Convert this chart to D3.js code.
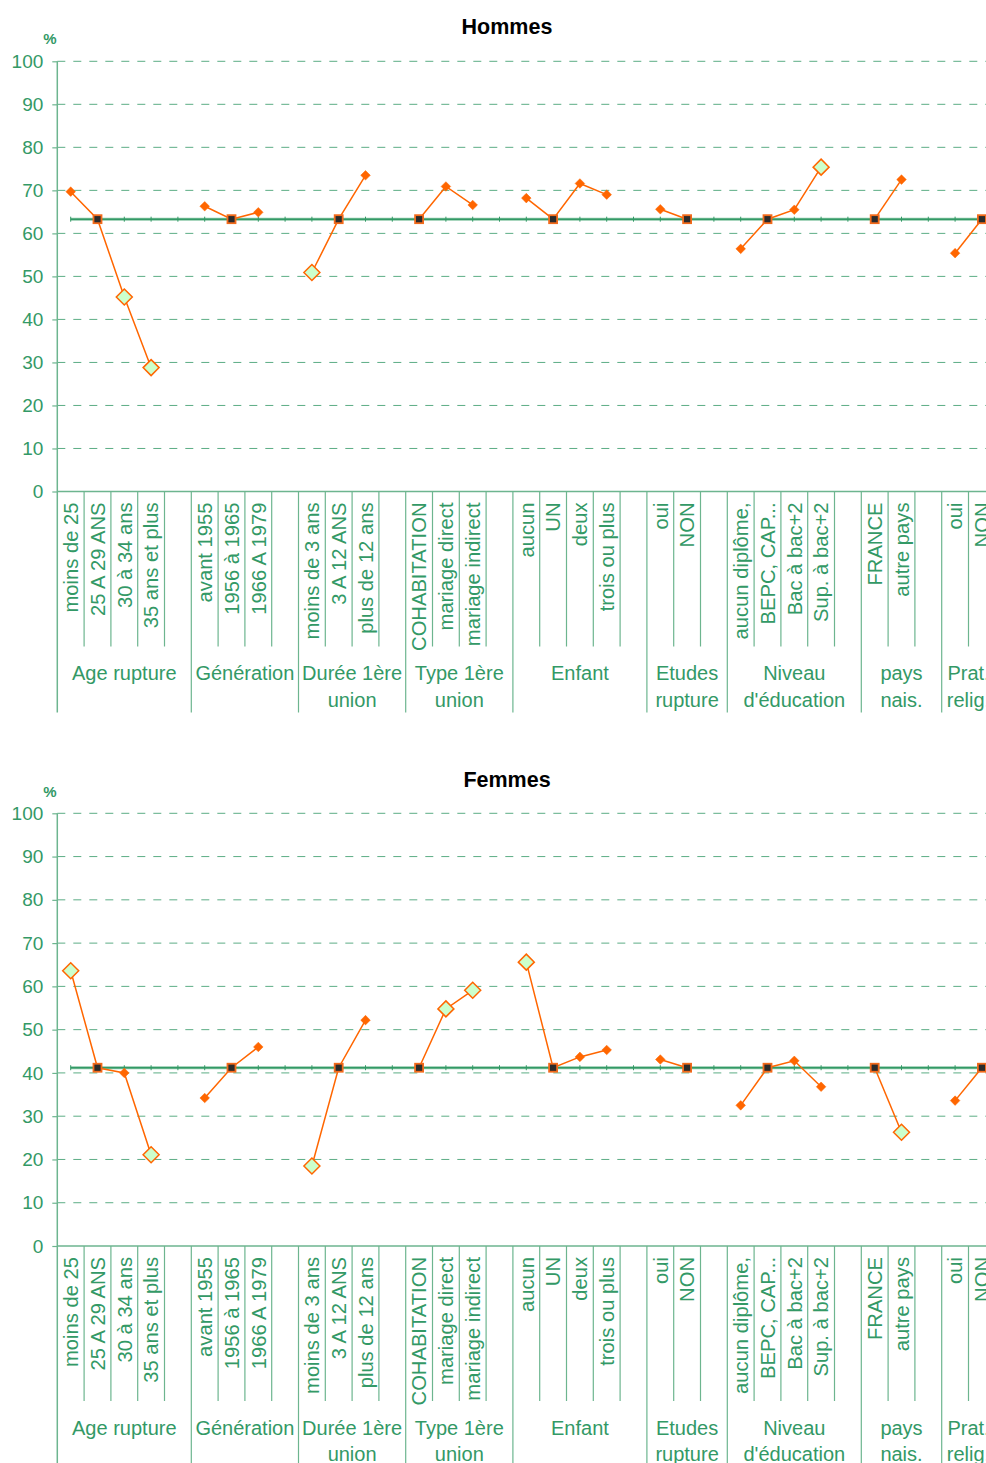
<!DOCTYPE html>
<html>
<head>
<meta charset="utf-8">
<script src="https://cdn.jsdelivr.net/npm/d3@7"></script>
<style>
  html, body { margin: 0; padding: 0; background: #fff; overflow: hidden; }
  svg { display: block; font-family: "Liberation Sans", Arial, sans-serif; }
</style>
</head>
<body>
<svg id="chart" width="986" height="1463"></svg>
<script>
// ---------------- DATA ----------------
const groupLabels = [
  ["Age rupture"], ["Génération"], ["Durée 1ère", "union"], ["Type 1ère", "union"],
  ["Enfant"], ["Etudes", "rupture"], ["Niveau", "d'éducation"], ["pays", "nais."], ["Prat.", "relig."]
];
const categories = [
  "moins de 25", "25 A 29 ANS", "30 à 34 ans", "35 ans et plus",
  "avant 1955", "1956 à 1965", "1966 A 1979",
  "moins de 3 ans", "3 A 12 ANS", "plus de 12 ans",
  "COHABITATION", "mariage direct", "mariage indirect",
  "aucun", "UN", "deux", "trois ou plus",
  "oui", "NON",
  "aucun diplôme,", "BEPC, CAP...", "Bac à bac+2", "Sup. à bac+2",
  "FRANCE", "autre pays",
  "oui", "NON"
];
const categoryGroup = [0,0,0,0, 1,1,1, 2,2,2, 3,3,3, 4,4,4,4, 5,5, 6,6,6,6, 7,7, 8,8];

const hommesRef = 63.3;
const hommes = [69.7, 63.3, 45.2, 28.8, 66.3, 63.3, 64.9, 50.9, 63.3, 73.5, 63.3, 70.9, 66.6,
                68.2, 63.3, 71.6, 69.0, 65.6, 63.3, 56.4, 63.3, 65.5, 75.4, 63.3, 72.5, 55.4, 63.3];
// ref = reference category, sig = significant, ns = not significant
const hommesType = ["ns","ref","sig","sig", "ns","ref","ns", "sig","ref","ns", "ref","ns","ns",
                    "ns","ref","ns","ns", "ns","ref", "ns","ref","ns","sig", "ref","ns", "ns","ref"];

const femmesRef = 41.2;
const femmes = [63.6, 41.2, 40.0, 21.1, 34.2, 41.2, 46.0, 18.5, 41.2, 52.2, 41.2, 54.8, 59.1,
                65.6, 41.2, 43.7, 45.3, 43.1, 41.2, 32.5, 41.2, 42.8, 36.8, 41.2, 26.3, 33.6, 41.2];
const femmesType = ["sig","ref","ns","sig", "ns","ref","ns", "sig","ref","ns", "ref","sig","sig",
                    "sig","ref","ns","ns", "ns","ref", "ns","ref","ns","ns", "ref","sig", "ns","ref"];

const yTicks = [0, 10, 20, 30, 40, 50, 60, 70, 80, 90, 100];

// ---------------- STYLE ----------------
const GREEN = "#339966";
const LIGHTGREEN = "#6db58f";
const ORANGE = "#FF6600";
const W = 986;

// slot domain: categories + an empty slot after every group but the last
const slots = [];
const catSlot = [];
groupLabels.forEach((gl, gi) => {
  categories.forEach((c, ci) => {
    if (categoryGroup[ci] === gi) { catSlot[ci] = "c" + ci; slots.push("c" + ci); }
  });
  if (gi < groupLabels.length - 1) slots.push("gap" + gi);
});

const slotW = 26.8;
const x0 = 57.3;
const x = d3.scaleBand().domain(slots).range([x0, x0 + slots.length * slotW]).padding(0);
const cx = i => x(catSlot[i]) + x.bandwidth() / 2;

const svg = d3.select("#chart");

function panel(title, values, types, refVal, y0px, y100px, top) {
  const g = svg.append("g");
  const y = d3.scaleLinear().domain([0, 100]).range([y0px, y100px]);

  // title
  g.append("text").attr("x", 507).attr("y", top + 34).attr("text-anchor", "middle")
    .attr("font-size", 21.5).attr("font-weight", "bold").attr("fill", "#000").text(title);
  g.append("text").attr("x", 50).attr("y", top + 44).attr("text-anchor", "middle")
    .attr("font-size", 15).attr("font-weight", "bold").attr("fill", GREEN).text("%");

  // dashed gridlines
  g.selectAll(".grid").data(yTicks.filter(d => d > 0)).join("line")
    .attr("x1", x0).attr("x2", W).attr("y1", d => y(d)).attr("y2", d => y(d))
    .attr("stroke", GREEN).attr("stroke-opacity", 0.8).attr("stroke-width", 1)
    .attr("stroke-dasharray", "8,8");

  // y axis
  const ax = g.append("g").attr("transform", `translate(${x0},0)`)
    .call(d3.axisLeft(y).tickValues(yTicks).tickSize(5).tickPadding(9).tickFormat(d3.format("d")));
  ax.select(".domain").remove();
  ax.selectAll(".tick line").attr("stroke", LIGHTGREEN).attr("stroke-width", 1.2);
  ax.selectAll(".tick text").attr("fill", GREEN).attr("font-size", 19)
    .attr("font-family", "'Liberation Sans', Arial, sans-serif");

  const catBottom = y0px + 155;
  const grpBottom = y0px + 221;
  // vertical axis line (continues as first group divider)
  g.append("line").attr("x1", x0).attr("x2", x0).attr("y1", y100px).attr("y2", grpBottom)
    .attr("stroke", LIGHTGREEN).attr("stroke-width", 1.5);
  // x axis baseline
  g.append("line").attr("x1", x0).attr("x2", W).attr("y1", y0px).attr("y2", y0px)
    .attr("stroke", LIGHTGREEN).attr("stroke-width", 1.5);

  // slot boundaries
  slots.forEach((s, i) => {
    if (i === 0) return;
    const xb = x(s);
    const isGroup = slots[i - 1].startsWith("gap");
    g.append("line").attr("x1", xb).attr("x2", xb).attr("y1", y0px)
      .attr("y2", isGroup ? grpBottom : catBottom)
      .attr("stroke", LIGHTGREEN).attr("stroke-width", 1.2);
  });

  // category labels (rotated)
  g.selectAll(".cat").data(categories).join("text")
    .attr("transform", (d, i) => `translate(${cx(i)},${y0px + 11}) rotate(-90)`)
    .attr("text-anchor", "end").attr("dy", "0.36em")
    .attr("font-size", 20.2).attr("fill", GREEN).text(d => d);

  // group labels
  groupLabels.forEach((gl, gi) => {
    const idx = categories.map((c, i) => i).filter(i => categoryGroup[i] === gi);
    const gx0 = x(catSlot[idx[0]]);
    const last = gi < groupLabels.length - 1 ? "gap" + gi : catSlot[idx[idx.length - 1]];
    const gx1 = x(last) + x.bandwidth();
    const t = g.append("text").attr("text-anchor", "middle").attr("font-size", 20).attr("fill", GREEN);
    gl.forEach((line, li) => {
      t.append("tspan").attr("x", (gx0 + gx1) / 2).attr("y", y0px + 188.5 + li * 26.5).text(line);
    });
  });

  // reference line
  g.append("line").attr("x1", cx(0)).attr("x2", W).attr("y1", y(refVal)).attr("y2", y(refVal))
    .attr("stroke", "#8cc9a8").attr("stroke-width", 3);
  g.append("line").attr("x1", cx(0)).attr("x2", W).attr("y1", y(refVal)).attr("y2", y(refVal))
    .attr("stroke", GREEN).attr("stroke-width", 1.6);
  g.selectAll(".reftick").data(slots).join("line")
    .attr("x1", s => x(s) + x.bandwidth() / 2).attr("x2", s => x(s) + x.bandwidth() / 2)
    .attr("y1", y(refVal) - 2.5).attr("y2", y(refVal) + 2.5)
    .attr("stroke", GREEN).attr("stroke-width", 1);

  // series lines per group
  const line = d3.line().x(i => cx(i)).y(i => y(values[i]));
  groupLabels.forEach((gl, gi) => {
    const idx = categories.map((c, i) => i).filter(i => categoryGroup[i] === gi);
    g.append("path").attr("d", line(idx)).attr("fill", "none")
      .attr("stroke", ORANGE).attr("stroke-width", 1.5);
  });

  // markers
  values.forEach((v, i) => {
    const px = cx(i), py = y(v), t = types[i];
    if (t === "ref") {
      g.append("rect").attr("x", px - 4).attr("y", py - 4).attr("width", 8).attr("height", 8)
        .attr("fill", "#2b2b2b").attr("stroke", "#f26a1b").attr("stroke-width", 1.8);
    } else if (t === "sig") {
      const r = 8;
      g.append("path").attr("d", `M${px},${py - r}L${px + r},${py}L${px},${py + r}L${px - r},${py}Z`)
        .attr("fill", "#CCFFCC").attr("stroke", ORANGE).attr("stroke-width", 1.5);
    } else {
      const r = 4.8;
      g.append("path").attr("d", `M${px},${py - r}L${px + r},${py}L${px},${py + r}L${px - r},${py}Z`)
        .attr("fill", ORANGE).attr("stroke", ORANGE).attr("stroke-width", 0.5);
    }
  });
}

panel("Hommes", hommes, hommesType, hommesRef, 491.5, 61.3, 0);
panel("Femmes", femmes, femmesType, femmesRef, 1246, 813.3, 753);
</script>
</body>
</html>
